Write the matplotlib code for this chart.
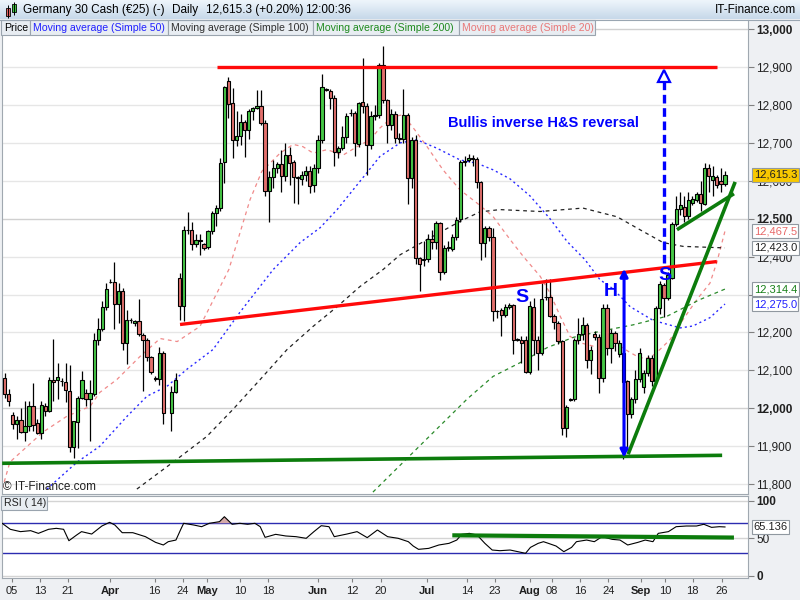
"""
Germany 30 Cash daily chart (IT-Finance style) with inverse H&S annotations.
"""
import matplotlib

matplotlib.use("Agg")
import matplotlib.pyplot as plt
import numpy as np
from matplotlib.colors import LinearSegmentedColormap
from matplotlib.patches import Rectangle
from matplotlib.transforms import blended_transform_factory

plt.rcParams["font.family"] = ["Liberation Sans", "DejaVu Sans"]

# --- daily candles, bar 0 = first bar on screen; None = empty slot ---
OPENS = [
    12081, 12039, 11983, 11958, 11970, 11938, 11954, 12007, 11962, 11936,
    12006, 11993, 12075, 12075, 12072, 12069, 12046, 11899, 11965, 12026,
    12040, 12024, 12039, 12179, 12208, 12268, 12332, 12332, 12274, 12310,
    12173, 12232, 12224, 12230, 12194, 12181, 12136, 12081, 12076, 12146,
    None, 11987, 12044, 12344, 12270, 12469, 12469, 12432, 12445, 12433,
    12425, 12468, 12515, 12528, 12649, 12864, 12804, 12708, 12717, 12754,
    12733, 12785, 12791, 12798, 12752, 12574, 12611, 12635, 12644, 12613,
    12667, 12649, 12609, 12604, 12616, 12627, 12588, 12633, 12708, 12842,
    12838, 12819, 12677, 12686, 12715, 12778, 12778, 12696, 12807, 12798,
    12695, 12772, 12774, 12905, 12813, 12747, 12777, 12712, 12710, 12774,
    12607, 12708, 12396, 12390, 12393, 12447, 12439, 12489, 12360, 12424,
    12420, 12451, 12498, 12649, 12655, 12661, 12657, 12597, 12436, 12475,
    12451, 12256, 12258, 12245, 12268, 12272, 12181, 12181, 12181, 12096,
    12267, 12181, 12146, 12293, 12294, 12243, 12225, 12177, 11949, 12022,
    12024, 12179, 12195, 12219, 12127, 12197, 12189, 12079, 12265, 12160,
    12199, 12142, 12145, 12072, 11984, 12024, 12076, 12057, 12094, 12133,
    12072, 12265, 12326, 12291, 12344, 12487, 12525, 12532, 12506, 12541,
    12550, 12565, 12540, 12633, 12603, 12610, 12600, 12592,
]
HIGHS = [
    12092, 12050, 11990, 11980, 12000, 12020, 12019, 12068, 11971, 12018,
    12015, 12082, 12182, 12120, 12081, 12120, 12113, 11967, 12033, 12098,
    12050, 12075, 12199, 12239, 12282, 12331, 12340, 12387, 12331, 12318,
    12260, 12238, 12234, 12287, 12199, 12186, 12138, 12085, 12162, 12151,
    None, 12059, 12092, 12357, 12480, 12518, 12490, 12460, 12460, 12437,
    12470, 12520, 12535, 12660, 12850, 12873, 12845, 12785, 12775, 12760,
    12790, 12795, 12840, 12840, 12760, 12625, 12655, 12650, 12680, 12700,
    12690, 12655, 12612, 12625, 12640, 12640, 12645, 12720, 12882, 12845,
    12842, 12825, 12692, 12745, 12780, 12790, 12785, 12808, 12923, 12805,
    12785, 12800, 12910, 12955, 12815, 12790, 12785, 12725, 12841, 12780,
    12715, 12720, 12400, 12440, 12460, 12470, 12495, 12492, 12430, 12440,
    12460, 12505, 12655, 12665, 12670, 12668, 12662, 12600, 12480, 12480,
    12475, 12260, 12265, 12275, 12278, 12275, 12185, 12190, 12190, 12282,
    12290, 12190, 12331, 12340, 12340, 12250, 12230, 12180, 12010, 12026,
    12185, 12237, 12240, 12225, 12165, 12205, 12195, 12275, 12275, 12210,
    12205, 12180, 12150, 12075, 12030, 12100, 12160, 12100, 12140, 12140,
    12270, 12335, 12330, 12360, 12490, 12560, 12570, 12560, 12570, 12560,
    12570, 12600, 12646, 12645, 12640, 12615, 12633, 12625,
]
LOWS = [
    12028, 12006, 11945, 11920, 11934, 11914, 11940, 11940, 11932, 11918,
    11980, 11989, 12019, 12024, 12059, 12017, 11885, 11868, 11894, 12024,
    12006, 11914, 12033, 12168, 12204, 12260, 12330, 12208, 12225, 12155,
    12116, 12225, 12217, 12190, 12045, 12125, 12090, 12072, 12061, 11959,
    None, 11941, 12041, 12234, 12230, 12460, 12418, 12425, 12405, 12418,
    12420, 12460, 12480, 12520, 12595, 12765, 12660, 12692, 12695, 12662,
    12710, 12760, 12790, 12748, 12560, 12490, 12580, 12620, 12570, 12600,
    12590, 12541, 12540, 12590, 12600, 12567, 12570, 12620, 12700, 12838,
    12790, 12640, 12660, 12680, 12700, 12770, 12665, 12690, 12780, 12616,
    12685, 12760, 12765, 12805, 12700, 12735, 12700, 12700, 12700, 12540,
    12580, 12380, 12309, 12375, 12385, 12420, 12420, 12339, 12355, 12415,
    12415, 12445, 12490, 12640, 12650, 12640, 12580, 12392, 12400, 12440,
    12230, 12238, 12190, 12240, 12262, 12142, 12178, 12120, 12094, 12090,
    12140, 12100, 12140, 12285, 12240, 12210, 12170, 11929, 11925, 12020,
    12020, 12170, 12180, 12105, 12090, 12180, 12040, 12070, 12140, 12120,
    12150, 12135, 11866, 11890, 11975, 12015, 12070, 12040, 12085, 12060,
    12065, 12250, 12240, 12285, 12340, 12480, 12510, 12490, 12500, 12535,
    12545, 12520, 12535, 12570, 12560, 12580, 12570, 12585,
]
CLOSES = [
    12037, 12018, 11958, 11970, 11938, 11954, 12007, 11957, 11936, 12009,
    11993, 12075, 12069, 12083, 12071, 12048, 11899, 11967, 12026, 12075,
    12024, 12040, 12179, 12208, 12268, 12315, 12333, 12276, 12310, 12173,
    12234, 12233, 12230, 12197, 12179, 12136, 12097, 12076, 12146, 11987,
    None, 12044, 12075, 12270, 12469, 12470, 12432, 12445, 12440, 12423,
    12468, 12515, 12528, 12646, 12848, 12803, 12708, 12717, 12756, 12733,
    12785, 12791, 12798, 12752, 12574, 12611, 12635, 12644, 12613, 12667,
    12646, 12611, 12608, 12616, 12627, 12585, 12633, 12708, 12846, 12840,
    12819, 12677, 12686, 12715, 12772, 12778, 12699, 12804, 12798, 12695,
    12772, 12774, 12905, 12813, 12747, 12777, 12712, 12710, 12774, 12607,
    12708, 12396, 12381, 12393, 12447, 12439, 12489, 12360, 12424, 12425,
    12451, 12496, 12649, 12652, 12661, 12657, 12597, 12436, 12475, 12451,
    12256, 12257, 12245, 12267, 12272, 12179, 12182, 12171, 12096, 12269,
    12181, 12146, 12287, 12294, 12243, 12228, 12177, 11949, 12004, 12024,
    12179, 12195, 12219, 12127, 12155, 12189, 12079, 12265, 12160, 12199,
    12173, 12173, 12070, 11984, 12024, 12076, 12146, 12094, 12133, 12072,
    12265, 12328, 12291, 12352, 12487, 12525, 12535, 12506, 12550, 12552,
    12565, 12541, 12633, 12613, 12613, 12589, 12592, 12615.3,
]

# moving averages (bar position, value)
MA20_X = [-0.6, 1.3, 2.1, 9.4, 15.3, 21.0, 23.4, 27.6, 33.3, 38.2, 42.4, 48.0,
          55.1, 60.3, 63.2, 67.7, 70.9, 73.3, 75.8, 79.2, 83.2, 86.6, 89.8,
          92.2, 95.4, 97.9, 100.8, 103.8, 107.7, 111.9, 116.1, 120.0, 124.2,
          127.4, 131.6, 134.0, 136.5, 138.9, 141.4, 144.6, 148.0, 151.2,
          153.7, 156.1, 158.6, 161.0, 163.5, 166.7, 170.1, 173.3, 175.0, 177.0]
MA20_Y = [11787, 11858, 11866, 11937, 11979, 12005, 12042, 12076, 12137, 12184,
          12176, 12216, 12366, 12550, 12625, 12673, 12696, 12690, 12673, 12682,
          12668, 12690, 12708, 12739, 12769, 12774, 12734, 12690, 12629, 12576,
          12541, 12506, 12445, 12401, 12348, 12304, 12243, 12190, 12173, 12164,
          12164, 12164, 12147, 12133, 12133, 12155, 12181, 12234, 12287, 12330,
          12385, 12467.5]
MA50_X = [10.4, 17.8, 23.4, 30.1, 35.0, 39.9, 44.8, 51.2, 57.8, 66.0, 72.6,
          77.5, 81.7, 89.0, 92.2, 97.2, 101.3, 106.2, 111.9, 116.1, 120.0,
          124.2, 129.1, 134.0, 138.2, 142.6, 146.3, 149.5, 153.7, 159.3,
          166.0, 169.1, 173.3, 177.0]
MA50_Y = [11787, 11858, 11900, 11979, 12032, 12058, 12103, 12155, 12253, 12366,
          12437, 12476, 12524, 12621, 12664, 12700, 12708, 12686, 12655, 12646,
          12629, 12605, 12560, 12500, 12440, 12392, 12339, 12315, 12268, 12232,
          12212, 12217, 12239, 12275.0]
MA100_X = [32.5, 42.4, 49.7, 56.1, 62.8, 69.4, 75.8, 81.7, 87.3, 93.0, 97.2,
           105.3, 111.9, 116.8, 121.7, 131.6, 142.1, 150.5, 156.1, 161.8,
           166.7, 177.0]
MA100_Y = [11787, 11866, 11926, 11997, 12076, 12155, 12216, 12268, 12321, 12366,
           12405, 12454, 12493, 12518, 12524, 12519, 12528, 12505, 12471, 12437,
           12427, 12423.0]
MA200_X = [90.5, 97.2, 105.3, 113.6, 120.0, 126.6, 133.3, 139.7, 146.3, 154.4,
           162.8, 170.9, 177.0]
MA200_Y = [11779, 11850, 11936, 12024, 12084, 12120, 12160, 12187, 12203, 12220,
           12243, 12287, 12314.4]

# RSI(14)
RSI_X = [-0.6, 1.4, 3.9, 6.4, 8.3, 10.8, 12.7, 14.5, 15.8, 17.7, 18.9, 21.4,
         23.9, 25.8, 27.1, 28.9, 31.5, 34.6, 37.1, 39.0, 40.2, 42.1, 43.4,
         44.0, 46.5, 48.4, 50.3, 52.8, 54.0, 55.9, 57.8, 59.7, 61.5, 62.8,
         64.0, 66.6, 69.1, 71.6, 74.1, 76.0, 77.8, 79.7, 81.0, 84.1, 86.6,
         89.1, 91.6, 94.1, 96.7, 99.2, 100.4, 101.7, 104.2, 106.7, 109.2,
         111.1, 112.3, 114.2, 116.1, 118.0, 119.8, 121.7, 124.2, 126.1,
         128.0, 129.2, 131.1, 132.4, 133.6, 135.5, 137.4, 139.3, 140.5,
         143.0, 144.9, 146.8, 149.3, 151.2, 153.1, 155.6, 157.4, 159.3,
         160.6, 163.1, 165.0, 167.5, 170.0, 171.8, 173.7, 175.6, 177.0]
RSI_Y = [70.0, 62.0, 58.9, 60.2, 56.6, 62.0, 63.3, 62.0, 46.8, 54.4, 58.9,
         55.7, 66.4, 71.3, 67.7, 57.5, 57.5, 52.2, 44.6, 41.1, 45.5, 47.7,
         63.3, 70.0, 67.7, 65.5, 70.0, 72.2, 78.8, 68.7, 70.0, 68.7, 70.0,
         65.5, 51.3, 55.3, 53.1, 52.2, 50.0, 58.9, 66.8, 65.5, 52.2, 55.7,
         58.9, 50.9, 61.1, 52.2, 50.0, 45.5, 39.7, 35.3, 36.6, 41.1, 43.3,
         47.7, 55.3, 56.6, 54.4, 43.3, 34.4, 33.5, 34.4, 32.2, 30.0, 37.9,
         43.3, 45.5, 43.3, 39.7, 32.2, 37.9, 45.5, 47.7, 45.5, 52.2, 48.6,
         47.7, 41.1, 44.6, 47.7, 45.5, 56.6, 58.9, 65.5, 66.4, 66.4, 68.7,
         64.6, 65.5, 65.136]

# drawn trend lines / annotations (bar position, price)
RESIST_X, RESIST_Y = [52.2, 175.0], [12900, 12900]
NECK_X, NECK_Y = [43.1, 175.0], [12221, 12387]
SUPPORT_X, SUPPORT_Y = [-0.6, 176.3], [11855, 11876]
TREND_X, TREND_Y = [153.2, 179.5], [11879, 12597]
FLAG_X, FLAG_Y = [165.2, 179.2], [12471, 12566]
HEAD_X, HEAD_LOW, HEAD_HIGH = 152.2, 11870, 12368
TARGET_X, TARGET_FROM, TARGET_TO = 162.0, 12384, 12892
RSI_LINE_X, RSI_LINE_Y = [110.0, 179.2], [54.0, 51.0]

DATE_TICK_POS = [1.8, 8.7, 15.6, 25.9, 36.9, 43.8, 49.7, 57.8, 64.7, 77.0, 85.4,
                 92.5, 103.8, 113.6, 120.5, 129.1, 134.5, 141.4, 148.3, 156.4,
                 162.3, 169.1, 176.3]
DATE_TICK_LABELS = ["05", "13", "21", "Apr", "16", "24", "May", "10", "18", "Jun",
                    "12", "20", "Jul", "14", "23", "Aug", "08", "16", "24", "Sep",
                    "10", "18", "26"]
PRICE_TICKS = list(range(11800, 13001, 100))
HIDDEN_PRICE_LABELS = [12300]   # fully covered by the MA200 value tag

UP, DOWN = "#46c846", "#e2706c"
BLUE = "#0000ff"
GREEN_LINE = "#0c7c0c"
W, H = 800, 600
XMIN, XMAX = (2 - 4.6) / 4.07, (748 - 4.6) / 4.07

fig = plt.figure(figsize=(8, 6), dpi=100, facecolor="#eef0f3")
ax = fig.add_axes([2 / W, 1 - 494 / H, 746 / W, 474 / H])
rax = fig.add_axes([2 / W, 1 - 578 / H, 746 / W, 82 / H])

# ---------------- price panel ----------------
ax.set_xlim(XMIN, XMAX)
ax.set_ylim(11774, 13024)
for lvl in PRICE_TICKS:
    ax.axhline(lvl, color="#d0d0d0" if lvl % 500 == 0 else "#e6e6e6", lw=1, zorder=0)

o = np.array(OPENS, dtype=float)
hi = np.array(HIGHS, dtype=float)
lo = np.array(LOWS, dtype=float)
c = np.array(CLOSES, dtype=float)
xs = np.arange(len(c))
body_lo = np.minimum(o, c)
body_h = np.maximum(np.abs(c - o), 1.5)
colors = [UP if cc >= oo else DOWN for oo, cc in zip(o, c)]
ax.vlines(xs, lo, hi, color="black", lw=0.9, zorder=3)
ax.bar(xs, body_h, bottom=body_lo, width=0.8, color=colors, edgecolor="black",
       linewidth=0.8, zorder=4)

ax.plot(MA20_X, MA20_Y, color="#f08a8a", lw=0.9, ls=(0, (3, 3)), zorder=2)
ax.plot(MA50_X, MA50_Y, color="#2a2aff", lw=1.0, ls=(0, (1.5, 2.2)), zorder=2)
ax.plot(MA100_X, MA100_Y, color="#222222", lw=0.9, ls=(0, (3, 3)), zorder=2)
ax.plot(MA200_X, MA200_Y, color="#2a8a2a", lw=0.9, ls=(0, (3, 3)), zorder=2)

ax.plot(RESIST_X, RESIST_Y, color="#ff0a0a", lw=2.4, solid_capstyle="butt", zorder=6)
ax.plot(NECK_X, NECK_Y, color="#ff0a0a", lw=2.4, solid_capstyle="butt", zorder=6)
ax.plot(SUPPORT_X, SUPPORT_Y, color=GREEN_LINE, lw=2.6, solid_capstyle="butt", zorder=6)
ax.plot(TREND_X, TREND_Y, color=GREEN_LINE, lw=2.6, solid_capstyle="butt", zorder=6)
ax.plot(FLAG_X, FLAG_Y, color=GREEN_LINE, lw=2.6, solid_capstyle="butt", zorder=6)

ax.annotate("", xy=(HEAD_X, HEAD_LOW), xytext=(HEAD_X, HEAD_HIGH),
            arrowprops=dict(arrowstyle="<|-|>", color=BLUE, lw=2.2,
                            mutation_scale=11, shrinkA=0, shrinkB=0), zorder=7)
ax.plot([TARGET_X, TARGET_X], [TARGET_FROM, TARGET_TO - 20], color=BLUE, lw=2.4,
        ls=(0, (2.6, 1.4)), zorder=7)
ax.plot([TARGET_X], [TARGET_TO - 16], marker="^", ms=9, mfc="white", mec=BLUE,
        mew=1.6, zorder=8)

ax.text(132.3, 12752, "Bullis inverse H&S reversal", color=BLUE, fontsize=10.5,
        fontweight="bold", ha="center", va="center", zorder=8)
ax.text(127.2, 12291, "S", color=BLUE, fontsize=14, fontweight="bold",
        ha="center", va="center", zorder=8)
ax.text(149.0, 12309, "H", color=BLUE, fontsize=14, fontweight="bold",
        ha="center", va="center", zorder=8)
ax.text(162.3, 12349, "S", color=BLUE, fontsize=14, fontweight="bold",
        ha="center", va="center", zorder=8)

ax.set_xticks([])
ax.yaxis.tick_right()
ax.set_yticks(PRICE_TICKS)
ax.set_yticklabels(["" if v in HIDDEN_PRICE_LABELS else f"{v:,}" for v in PRICE_TICKS])
for lab, v in zip(ax.get_yticklabels(), PRICE_TICKS):
    if v % 500 == 0:
        lab.set_fontweight("bold")
ax.tick_params(axis="y", length=4, color="#808080", pad=2, labelsize=8.5,
               labelcolor="#202020")
for side in ("left", "right", "bottom"):
    ax.spines[side].set_color("#a0a8b0")
ax.spines["top"].set_visible(False)

tr = blended_transform_factory(ax.transAxes, ax.transData)
for val, fc, tc in [(12615.3, "#f7c800", "#202020"), (12467.5, "white", "#e86a6a"),
                    (12423.0, "white", "#202020"), (12314.4, "white", "#188018"),
                    (12275.0, "white", "#2020ff")]:
    ax.text(1.0075, val, f"{val:,.1f}", transform=tr, va="center", ha="left",
            fontsize=8, color=tc, clip_on=False, zorder=10,
            bbox=dict(boxstyle="square,pad=0.16", fc=fc, ec="#9098a0", lw=0.8))

# ---------------- RSI panel ----------------
rax.set_xlim(XMIN, XMAX)
rax.set_ylim(-2.9, 106.4)
for lvl, col in [(100, "#d4d4d4"), (50, "#d4d4d4"), (0, "#d4d4d4"),
                 (70, "#2c2cb0"), (30, "#2c2cb0")]:
    rax.axhline(lvl, color=col, lw=1, zorder=1)
rsi = np.array(RSI_Y)
rax.fill_between(RSI_X, rsi, 70, where=rsi >= 70, interpolate=True,
                 color="#d6aaaa", lw=0, zorder=2)
rax.plot(RSI_X, rsi, color="black", lw=0.8, zorder=3)
rax.plot(RSI_LINE_X, RSI_LINE_Y, color=GREEN_LINE, lw=3, solid_capstyle="butt", zorder=4)
rax.yaxis.tick_right()
rax.set_yticks([0, 50, 100])
rax.set_yticklabels(["0", "50", "100"])
for lab in rax.get_yticklabels():
    if lab.get_text() in ("0", "100"):
        lab.set_fontweight("bold")
rax.tick_params(axis="y", length=4, color="#808080", pad=2, labelsize=8.5,
                labelcolor="#202020")
rax.set_xticks(DATE_TICK_POS)
rax.set_xticklabels(DATE_TICK_LABELS)
for lab in rax.get_xticklabels():
    if lab.get_text().isalpha():
        lab.set_fontweight("bold")
rax.tick_params(axis="x", length=3, color="#808080", pad=3, labelsize=8,
                labelcolor="#202020")
for sp in rax.spines.values():
    sp.set_color("#a0a8b0")
rtr = blended_transform_factory(rax.transAxes, rax.transData)
rax.text(1.0075, RSI_Y[-1], f"{RSI_Y[-1]:.3f}", transform=rtr, va="center",
         ha="left", fontsize=8, color="#202020", clip_on=False, zorder=10,
         bbox=dict(boxstyle="square,pad=0.16", fc="white", ec="#9098a0", lw=0.8))

# ---------------- header / legend chrome (pixel coordinates) ----------------
hdr = fig.add_axes([0, 1 - 19 / H, 1, 19 / H])
cmap = LinearSegmentedColormap.from_list("hdr", ["#eef5fb", "#c7d9ea"])
hdr.imshow(np.linspace(0, 1, 20).reshape(-1, 1), aspect="auto", cmap=cmap,
           extent=[0, W, 19, 0])
hdr.set_xlim(0, W)
hdr.set_ylim(19, 0)
hdr.axis("off")
hdr.vlines([8, 14], [5, 2], [18, 15], color="black", lw=0.7)
hdr.add_patch(Rectangle((6, 8), 4, 8, fc="#e06060", ec="black", lw=0.6))
hdr.add_patch(Rectangle((12, 4), 4, 8, fc="#3cc83c", ec="black", lw=0.6))
hdr.text(23, 10, "Germany 30 Cash (€25) (-)", va="center", fontsize=8.5)
hdr.text(172, 10, "Daily", va="center", fontsize=8.5)
hdr.text(206, 10, "12,615.3 (+0.20%)", va="center", fontsize=8.5)
hdr.text(305, 10, "12:00:36", va="center", fontsize=8.5)
hdr.text(796, 10, "IT-Finance.com", va="center", ha="right", fontsize=8.5)

ov = fig.add_axes([0, 0, 1, 1], zorder=20)
ov.set_xlim(0, W)
ov.set_ylim(H, 0)
ov.axis("off")
ov.patch.set_alpha(0)
ov.axhline(19.5, xmin=0, xmax=1, color="#9aa6b2", lw=0.8)
for label, col, x0, x1 in [("Price", "#000000", 1, 30),
                           ("Moving average (Simple 50)", "#2020ff", 30, 168),
                           ("Moving average (Simple 100)", "#303030", 168, 313),
                           ("Moving average (Simple 200)", "#1e8a1e", 313, 459),
                           ("Moving average (Simple 20)", "#e87878", 459, 595)]:
    ov.add_patch(Rectangle((x0, 20), x1 - x0, 15, fc="#e8edf2", ec="#9aa4ae", lw=0.8))
    ov.text(x0 + 3, 28, label, color=col, fontsize=7.6, va="center")
ov.add_patch(Rectangle((1, 496), 46, 14, fc="#e8edf2", ec="#9aa4ae", lw=0.8))
ov.text(4, 503.5, "RSI ( 14)", fontsize=7.6, va="center", color="#202020")
ov.text(3, 487, "© IT-Finance.com", fontsize=8.5, va="center", color="#202020")

fig.savefig("out.png", dpi=100, facecolor=fig.get_facecolor())
